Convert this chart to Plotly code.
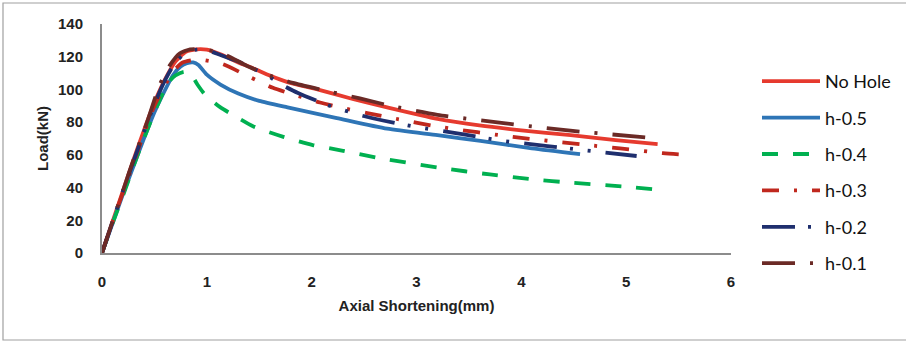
import plotly.graph_objects as go

# ---- data ----
no_hole_x = [0, 0.1, 0.2, 0.3, 0.4, 0.5, 0.6, 0.7, 0.8, 0.9, 1.0, 1.13, 1.3, 1.44, 1.6, 1.77, 2.08, 2.4, 2.72, 3.2, 3.6, 4.0, 4.47, 4.9, 5.3]
no_hole_y = [0, 19, 38, 57, 75, 92, 106, 117, 123, 124.5, 124.3, 121.5, 116.5, 113, 108.5, 104.5, 99.6, 94, 89, 82, 78, 75, 72, 69, 66.6]

h05_x = [0, 0.1, 0.2, 0.3, 0.4, 0.5, 0.55, 0.68, 0.75, 0.81, 0.87, 0.92, 1.0, 1.13, 1.3, 1.5, 1.77, 2.24, 2.72, 3.2, 3.61, 4.1, 4.56]
h05_y = [0, 18, 36, 53, 70, 86, 93, 109, 114, 116, 116.5, 115, 109, 103, 97.5, 93, 89, 82.5, 76, 72, 68.5, 64, 60.5]

h04_x = [0, 0.1, 0.2, 0.3, 0.4, 0.52, 0.63, 0.7, 0.78, 0.84, 0.91, 0.98, 1.13, 1.22, 1.44, 1.73, 2.01, 2.3, 2.65, 3.23, 3.7, 4.11, 4.47, 5.0, 5.36]
h04_y = [0, 18, 35, 53, 70, 89, 104, 108.5, 110.8, 110, 103, 97, 89, 85.5, 77.5, 71, 66, 62.5, 58, 52, 48, 45, 43, 40.5, 38.3]

h03_x = [0, 0.1, 0.2, 0.3, 0.4, 0.5, 0.58, 0.68, 0.77, 0.87, 0.96, 1.15, 1.41, 1.63, 1.84, 2.08, 2.3, 2.53, 2.77, 3.23, 3.92, 4.63, 4.94, 5.35, 5.58]
h03_y = [0, 19, 37, 55, 73, 90, 100, 111, 116.5, 118, 118, 115.5, 107.6, 101, 96.6, 92, 88.6, 85.5, 82.5, 77, 71, 66, 64, 61, 60]

h02_x = [0, 0.1, 0.2, 0.3, 0.4, 0.5, 0.6, 0.7, 0.8, 0.9, 1.0, 1.13, 1.3, 1.45, 1.57, 1.72, 1.87, 2.15, 2.3, 2.48, 2.68, 3.0, 3.45, 3.77, 4.25, 4.58, 5.1]
h02_y = [0, 19, 38, 56, 74, 91, 105.5, 116.5, 122.5, 124.3, 124, 121, 117, 112.5, 108.8, 102.7, 97.8, 90.5, 87.4, 84, 81, 77, 72.5, 69, 65.4, 63, 59.3]

h01_x = [0, 0.1, 0.2, 0.3, 0.43, 0.55, 0.65, 0.74, 0.84, 0.95, 1.1, 1.2, 1.38, 1.6, 1.82, 2.08, 2.46, 2.72, 3.2, 3.83, 4.49, 5.13, 5.3]
h01_y = [0, 19, 38, 57, 80, 102.7, 115, 122, 124.5, 124.5, 123, 120.5, 114.5, 108.5, 104, 100, 94.5, 90.5, 84.5, 79.4, 74.6, 71, 70]

series_names = ["No Hole", "h-0.5", "h-0.4", "h-0.3", "h-0.2", "h-0.1"]
x_ticks = [0, 1, 2, 3, 4, 5, 6]
y_ticks = [0, 20, 40, 60, 80, 100, 120, 140]

# ---- styles ----
colors = ["#E63A2E", "#2E75B6", "#00B050", "#C0281E", "#1F2F6E", "#6B2A26"]
dashes = ["solid", "solid", "16px,15px", "17px,15px,3px,15px",
          "33px,13px,3px,15px,3px,15px", "33px,15px,3px,15px"]
xs = [no_hole_x, h05_x, h04_x, h03_x, h02_x, h01_x]
ys = [no_hole_y, h05_y, h04_y, h03_y, h02_y, h01_y]

fig = go.Figure()
for i, name in enumerate(series_names):
    fig.add_trace(go.Scatter(
        x=xs[i], y=ys[i], name=name, mode="lines",
        legendgroup=name,
        line=dict(color=colors[i], width=3.8, dash=dashes[i], shape="spline", smoothing=0.6),
    ))

narrow = "Liberation Sans Narrow, Arial Narrow, Liberation Sans, sans-serif"
tick_font = dict(family=narrow, size=15, color="#222222", weight="bold")

fig.update_layout(
    width=906, height=342,
    margin=dict(l=102, r=175, t=24, b=89, autoexpand=False),
    paper_bgcolor="white", plot_bgcolor="white",
    showlegend=True,
    legend=dict(
        x=(757 - 102) / 629, xanchor="left", y=(253 - 63) / 229, yanchor="top",
        font=dict(family="Lato, Open Sans, sans-serif", size=18, color="#111111"),
        itemwidth=58, tracegroupgap=10,
        bgcolor="rgba(0,0,0,0)",
    ),
    xaxis=dict(
        range=[0, 6], tickvals=x_ticks, ticktext=[str(v) for v in x_ticks],
        showgrid=False, zeroline=False, automargin=False,
        showline=True, linecolor="#8C8C8C", linewidth=2,
        ticks="", tickfont=tick_font, ticklabelstandoff=14,
        title=dict(text="Axial Shortening(mm)", standoff=11,
                   font=dict(family=narrow, size=15, color="#222222", weight="bold")),
    ),
    yaxis=dict(
        range=[0, 140], tickvals=y_ticks, ticktext=[str(v) for v in y_ticks],
        showgrid=False, zeroline=False, automargin=False,
        showline=True, linecolor="#8C8C8C", linewidth=2,
        ticks="", tickfont=tick_font, ticklabelstandoff=14,
        title=dict(text="Load(kN)", standoff=6,
                   font=dict(family=narrow, size=15, color="#222222", weight="bold")),
    ),
    shapes=[dict(type="rect", xref="paper", yref="paper",
                 x0=(3 - 102) / 629, x1=1.4, y0=(253 - 340) / 229, y1=(253 - 3) / 229,
                 line=dict(color="#A0A0A0", width=1.2), fillcolor="rgba(0,0,0,0)", layer="below")],
)

fig.write_html("out.html", config={"displayModeBar": False},
               post_script="document.body.style.margin='0';")
